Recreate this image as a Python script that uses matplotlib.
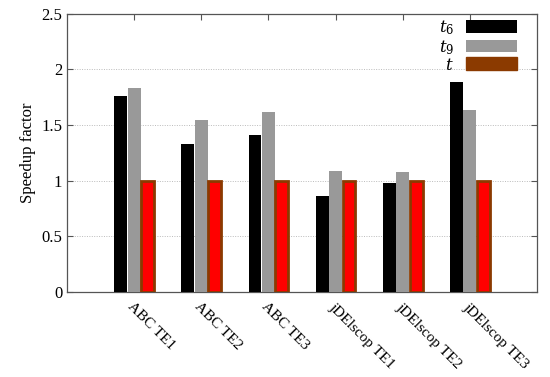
import matplotlib.pyplot as plt
import numpy as np
from matplotlib.patches import Patch

# ── Data ─────────────────────────────────────────────────────────────────────
CATEGORIES = ['ABC TE1', 'ABC TE2', 'ABC TE3',
              'jDElscop TE1', 'jDElscop TE2', 'jDElscop TE3']
T6 = [1.76, 1.33, 1.41, 0.86, 0.98, 1.89]
T9 = [1.83, 1.54, 1.62, 1.09, 1.08, 1.63]
T  = [1.0, 1.0, 1.0, 1.0, 1.0, 1.0]
YTICKS = [0, 0.5, 1, 1.5, 2, 2.5]
YTICK_LABELS = ['0', '0.5', '1', '1.5', '2', '2.5']

BROWN = '#8b3a00'

plt.rcParams['font.family'] = ['Liberation Serif', 'DejaVu Serif']
plt.rcParams['mathtext.fontset'] = 'dejavuserif'

fig = plt.figure(figsize=(5.5, 3.77), dpi=100)
ax = fig.add_axes([0.1218, 0.2255, 0.9764 - 0.1218, 0.964 - 0.2255])

x = np.arange(1, len(CATEGORIES) + 1)
w = 0.19
ax.bar(x - 0.2, T6, w, color='black', zorder=3)
ax.bar(x, T9, w, color='#999999', zorder=3)
ax.bar(x + 0.2, T, w, color='red', edgecolor=BROWN, linewidth=2, zorder=3)

ax.set_xlim(0, 7)
ax.set_ylim(0, 2.5)
ax.set_yticks(YTICKS)
ax.set_yticklabels(YTICK_LABELS, fontsize=12)
ax.set_xticks(x)
ax.set_xticklabels(CATEGORIES, rotation=-45, ha='left', va='top',
                   rotation_mode='anchor', fontsize=11)
ax.tick_params(direction='in', top=True, right=True, length=4,
               color='#555555', width=0.8)
ax.tick_params(axis='x', pad=6)
for s in ax.spines.values():
    s.set_color('#555555')
    s.set_linewidth(0.9)

for yv in YTICKS[1:-1]:
    ax.axhline(yv, color='#bbbbbb', linestyle=(0, (1, 1.5)), linewidth=0.7, zorder=1)

ax.set_ylabel('Speedup factor', fontsize=12)

handles = [Patch(facecolor='black'),
           Patch(facecolor='#999999'),
           Patch(facecolor=BROWN, edgecolor=BROWN)]
ax.legend(handles, [r'$t_6$', r'$t_9$', r'$t$'], loc='upper right',
          frameon=False, markerfirst=False, fontsize=12,
          handlelength=3.1, handleheight=0.8, labelspacing=0.05,
          handletextpad=0.7, borderaxespad=0, borderpad=0.2,
          bbox_to_anchor=(0.965, 0.995))

fig.savefig('out.png', dpi=100)
